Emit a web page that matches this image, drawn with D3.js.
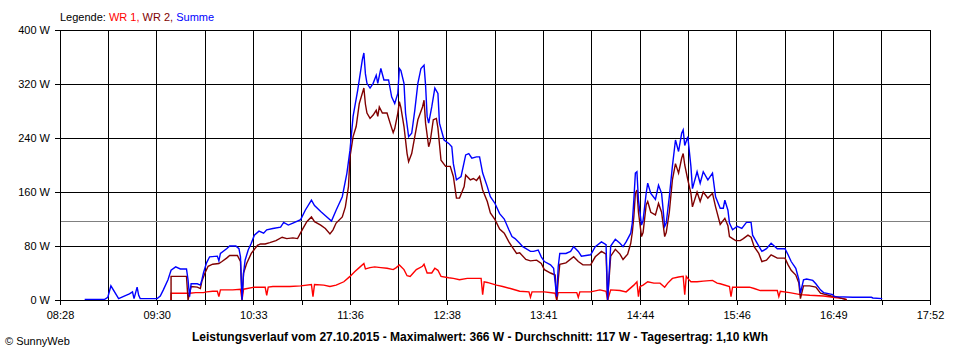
<!DOCTYPE html>
<html><head><meta charset="utf-8">
<script src="https://cdn.jsdelivr.net/npm/d3@7"></script>
<style>
body{margin:0;background:#fff;}
svg text{font-family:"Liberation Sans",Arial,sans-serif;font-size:11px;fill:#000;}
</style></head>
<body><svg id="chart" width="960" height="360"></svg>
<script>
// ---- data ----
const xTickLabels = ["08:28","09:30","10:33","11:36","12:38","13:41","14:44","15:46","16:49","17:52"];
const yTicks = [0, 80, 160, 240, 320, 400];
const avgValue = 117;
const titleText = "Leistungsverlauf vom 27.10.2015 - Maximalwert: 366 W - Durchschnitt: 117 W - Tagesertrag: 1,10 kWh";
const seriesNames = ["WR 1", "WR 2", "Summe"];

const sumTimes = ["08:44","08:57","08:59","09:01","09:06","09:10","09:13","09:15","09:16","09:18","09:19","09:20","09:31","09:33","09:35","09:38","09:40","09:43","09:46","09:50","09:51","09:52","09:53","09:57","09:59","10:00","10:01","10:03","10:05","10:10","10:11","10:12","10:16","10:18","10:22","10:24","10:25","10:26","10:27","10:28","10:30","10:32","10:34","10:37","10:40","10:42","10:46","10:51","10:53","10:56","10:59","11:04","11:07","11:11","11:13","11:17","11:21","11:24","11:27","11:31","11:34","11:36","11:38","11:41","11:44","11:45","11:46","11:47","11:49","11:51","11:53","11:54","11:56","11:58","12:01","12:03","12:05","12:07","12:08","12:09","12:11","12:12","12:14","12:16","12:18","12:20","12:22","12:24","12:25","12:26","12:27","12:29","12:31","12:33","12:34","12:37","12:40","12:42","12:43","12:45","12:48","12:51","12:53","12:55","12:58","13:00","13:02","13:05","13:07","13:10","13:13","13:16","13:19","13:21","13:23","13:26","13:28","13:33","13:35","13:38","13:40","13:42","13:46","13:48","13:50","13:51","13:52","13:56","13:59","14:01","14:04","14:06","14:12","14:15","14:19","14:22","14:23","14:25","14:28","14:31","14:33","14:35","14:38","14:39","14:40","14:41","14:42","14:43","14:45","14:46","14:48","14:49","14:51","14:54","14:56","14:58","15:00","15:01","15:03","15:05","15:07","15:09","15:11","15:12","15:13","15:15","15:17","15:18","15:21","15:23","15:25","15:28","15:31","15:33","15:36","15:38","15:39","15:41","15:42","15:44","15:47","15:50","15:53","15:56","15:57","16:00","16:03","16:06","16:09","16:13","16:18","16:20","16:22","16:25","16:27","16:28","16:30","16:32","16:36","16:38","16:41","16:43","16:49","16:50","17:02","17:14","17:15","17:21"];
const sumValues = [1,1,4,21,2,6,9,12,2,19,7,2,2,6,15,30,44,49,46,46,30,5,24,24,22,30,40,55,64,65,58,69,76,80,80,76,64,0,40,59,74,84,96,102,99,104,106,108,115,111,114,119,133,148,140,131,123,117,133,153,188,222,272,311,356,366,335,321,314,321,333,321,343,326,326,301,291,306,343,340,321,277,242,247,281,321,343,348,318,272,262,286,314,306,262,237,232,227,202,178,183,215,217,210,212,212,188,168,153,143,128,120,104,94,91,84,79,72,72,74,64,57,52,47,5,50,69,69,72,79,72,65,67,79,86,82,0,80,90,84,79,86,99,114,148,188,190,148,111,118,158,173,158,149,170,158,109,114,153,198,237,220,247,252,229,242,198,165,190,173,190,178,188,153,136,136,148,133,114,104,109,106,115,115,96,84,72,76,84,76,76,67,57,47,30,10,30,31,29,24,15,11,8,5,4,4,3,2];

const wr2Times = ["09:40","09:40","09:50","09:51","09:53","09:57","09:59","10:00","10:02","10:04","10:07","10:11","10:13","10:16","10:18","10:23","10:25","10:26","10:27","10:29","10:32","10:36","10:38","10:41","10:44","10:48","10:52","10:55","10:59","11:02","11:05","11:08","11:11","11:13","11:17","11:20","11:23","11:25","11:27","11:31","11:33","11:35","11:36","11:38","11:40","11:42","11:45","11:46","11:47","11:49","11:51","11:53","11:54","11:55","11:57","12:00","12:02","12:04","12:05","12:07","12:08","12:09","12:11","12:13","12:14","12:16","12:18","12:20","12:23","12:24","12:25","12:27","12:28","12:30","12:32","12:33","12:35","12:38","12:41","12:43","12:45","12:47","12:50","12:51","12:54","12:56","12:58","13:00","13:02","13:05","13:07","13:10","13:13","13:16","13:19","13:21","13:24","13:26","13:30","13:33","13:37","13:40","13:42","13:46","13:49","13:50","13:51","13:52","13:56","14:01","14:04","14:07","14:12","14:15","14:19","14:22","14:23","14:25","14:28","14:31","14:33","14:36","14:38","14:39","14:40","14:41","14:42","14:43","14:45","14:46","14:48","14:49","14:51","14:54","14:56","14:58","15:00","15:01","15:03","15:05","15:07","15:09","15:11","15:12","15:13","15:15","15:17","15:18","15:21","15:23","15:25","15:28","15:31","15:33","15:36","15:39","15:41","15:42","15:44","15:46","15:49","15:51","15:54","15:56","15:58","16:01","16:03","16:06","16:09","16:13","16:18","16:20","16:22","16:25","16:27","16:28","16:30","16:34","16:38","16:41","16:48","16:51","16:57","16:58"];
const wr2Values = [0,35,35,0,20,19,17,28,40,50,53,54,57,62,66,66,57,2,40,54,69,81,83,83,85,88,93,91,92,91,104,116,123,116,111,106,98,104,114,123,138,168,212,242,257,291,314,290,277,269,274,281,272,286,277,277,262,248,254,277,294,285,257,217,205,217,242,267,286,296,262,227,235,267,269,255,207,198,198,183,151,151,168,185,178,180,177,183,163,146,129,119,105,99,86,79,69,70,60,58,59,54,45,40,37,0,30,53,55,64,57,52,52,64,72,68,0,65,75,68,60,68,84,100,123,158,163,130,94,100,141,146,130,126,143,130,94,100,130,178,202,188,210,217,200,178,158,138,160,146,160,151,158,138,112,121,110,94,91,88,88,91,96,93,79,69,57,59,67,62,62,52,44,37,25,2,21,21,19,10,6,5,1,0];

const wr1Times = ["09:40","09:40","09:52","09:56","10:01","10:03","10:07","10:10","10:11","10:12","10:20","10:25","10:26","10:27","10:34","10:41","10:42","10:43","10:46","10:57","11:04","11:11","11:12","11:13","11:19","11:23","11:27","11:32","11:36","11:39","11:42","11:45","11:46","11:49","11:52","11:56","12:00","12:04","12:06","12:08","12:11","12:13","12:15","12:17","12:19","12:23","12:24","12:26","12:29","12:31","12:33","12:35","12:40","12:43","12:47","12:52","12:56","13:01","13:02","13:03","13:05","13:11","13:15","13:20","13:26","13:32","13:33","13:34","13:42","13:49","13:50","13:51","14:03","14:04","14:05","14:12","14:18","14:22","14:23","14:25","14:31","14:35","14:40","14:42","14:43","14:44","14:46","14:49","14:53","14:57","15:00","15:02","15:05","15:09","15:12","15:13","15:14","15:15","15:17","15:21","15:25","15:31","15:34","15:36","15:42","15:43","15:44","15:55","15:58","16:02","16:13","16:14","16:15","16:21","16:28","16:34","16:43","16:49","16:56","16:58"];
const wr1Values = [0,10,10,11,11,12,13,13,5,15,15,16,0,16,19,19,7,19,20,20,21,23,5,23,22,20,22,27,35,42,48,54,46,48,49,48,47,45,48,52,45,36,35,40,45,50,53,40,40,47,44,35,33,32,30,32,32,32,8,27,26,22,20,17,13,12,4,12,12,10,0,11,11,4,12,12,15,13,0,15,14,12,22,27,5,20,22,27,25,25,19,25,32,34,35,8,35,32,27,27,28,29,25,24,20,5,19,19,17,14,14,5,13,11,8,7,6,4,2,1];

// ---- chart ----
const parse = d3.timeParse("%H:%M");
const svg = d3.select("#chart");
const plotL = 60, plotR = 930, plotT = 30, plotB = 300;
const x = d3.scaleTime().domain([parse(xTickLabels[0]), parse(xTickLabels[xTickLabels.length-1])]).range([plotL, plotR]);
const y = d3.scaleLinear().domain([0, 400]).range([plotB, plotT]);

const t0 = x.domain()[0].getTime(), t1 = x.domain()[1].getTime();
const nGrid = (xTickLabels.length - 1) * 2;
const gridTimes = d3.range(nGrid + 1).map(i => new Date(t0 + (t1 - t0) * i / nGrid));

// grid
const grid = svg.append("g").attr("shape-rendering", "crispEdges");
grid.selectAll(".vg").data(gridTimes).join("line")
  .attr("x1", d => x(d)).attr("x2", d => x(d)).attr("y1", plotT).attr("y2", plotB)
  .attr("stroke", "#000");
grid.selectAll(".hg").data(yTicks).join("line")
  .attr("x1", plotL).attr("x2", plotR).attr("y1", d => y(d)).attr("y2", d => y(d))
  .attr("stroke", "#000");
grid.append("line").attr("x1", plotL).attr("x2", plotR).attr("y1", y(avgValue)).attr("y2", y(avgValue))
  .attr("stroke", "#808080");

// axes
const xAxis = d3.axisBottom(x).tickValues(gridTimes).tickSizeInner(5).tickSizeOuter(0).tickPadding(6)
  .tickFormat((d, i) => i % 2 === 0 ? xTickLabels[i / 2] : "");
svg.append("g").attr("transform", `translate(0,${plotB})`).attr("shape-rendering", "crispEdges").call(xAxis);
const yAxis = d3.axisLeft(y).tickValues(yTicks).tickSizeInner(5).tickSizeOuter(0).tickPadding(5)
  .tickFormat(d => d + " W");
svg.append("g").attr("transform", `translate(${plotL},0)`).attr("shape-rendering", "crispEdges").call(yAxis);
svg.selectAll(".tick text").style("font-family", '"Liberation Sans",Arial,sans-serif').style("font-size", "11px").attr("fill", "#000");
svg.selectAll(".domain, .tick line").attr("stroke", "#000");

// lines
const colors = {"WR 1": "#ff0000", "WR 2": "#800000", "Summe": "#0000ff"};
const line = d3.line().x(d => x(d.t)).y(d => y(d.v));
function mk(times, vals) { return times.map((t, i) => ({t: parse(t), v: vals[i]})); }
const series = [
  {name: "WR 1", data: mk(wr1Times, wr1Values)},
  {name: "WR 2", data: mk(wr2Times, wr2Values)},
  {name: "Summe", data: mk(sumTimes, sumValues)}
];
svg.append("g").selectAll("path").data(series).join("path")
  .attr("d", d => line(d.data))
  .attr("fill", "none")
  .attr("stroke", d => colors[d.name])
  .attr("stroke-width", 1.4)
  .attr("stroke-linejoin", "miter");

// legend
const leg = svg.append("text").attr("x", 60).attr("y", 21);
leg.append("tspan").text("Legende: ");
seriesNames.forEach((n, i) => {
  leg.append("tspan").attr("fill", colors[n]).text(n + (i < seriesNames.length - 1 ? "," : ""));
  if (i < seriesNames.length - 1) leg.append("tspan").text(" ");
});

// title & footer
svg.append("text").attr("x", 480).attr("y", 341).attr("text-anchor", "middle")
  .style("font-weight", "bold").style("font-size", "12px").text(titleText);
svg.append("text").attr("x", 5).attr("y", 345).text("\u00A9 SunnyWeb");
</script></body></html>
